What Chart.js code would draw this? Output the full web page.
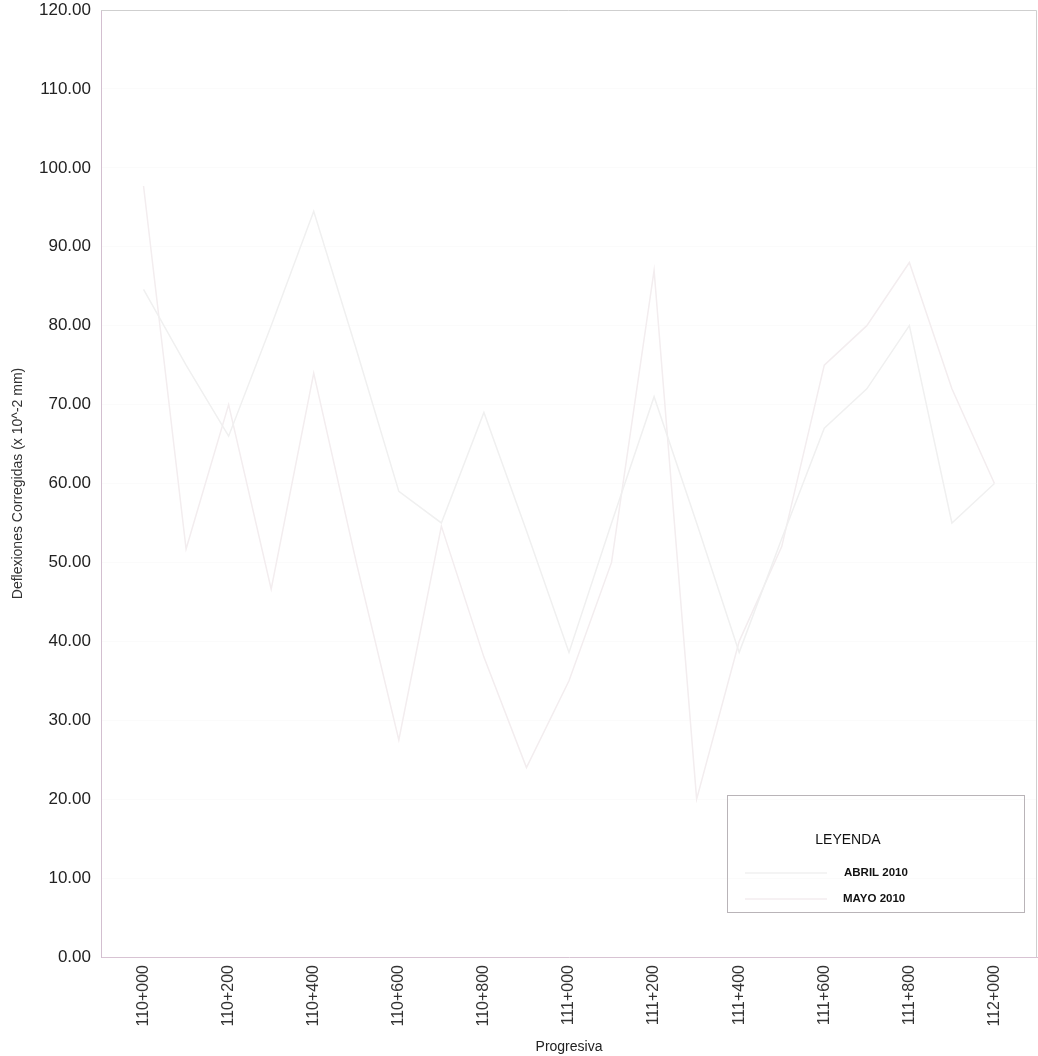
<!DOCTYPE html>
<html>
<head>
<meta charset="utf-8">
<script src="https://cdn.jsdelivr.net/npm/chart.js@4.4.1/dist/chart.umd.min.js"></script>
<style>
  html, body { margin: 0; padding: 0; background: #fff; }
  #wrap { width: 1038px; height: 1056px; }
</style>
</head>
<body>
<div id="wrap"><canvas id="chart-deflexiones" width="1038" height="1056"></canvas></div>
<script>
const progresivas = [
  '110+000', '110+100', '110+200', '110+300', '110+400', '110+500', '110+600',
  '110+700', '110+800', '110+900', '111+000', '111+100', '111+200', '111+300',
  '111+400', '111+500', '111+600', '111+700', '111+800', '111+900', '112+000',
]
const abril2010 = [84.6, 75.0, 66.0, 80.0, 94.5, 77.0, 59.0, 55.0, 69.0, 54.0, 38.6,
  55.0, 71.0, 55.0, 38.6, 53.0, 67.0, 72.0, 80.0, 55.0, 60.0]
const mayo2010 = [97.7, 51.7, 70.0, 46.6, 74.0, 50.0, 27.5, 54.6, 38.0, 24.0, 35.0,
  50.0, 87.0, 20.0, 40.0, 52.0, 75.0, 80.0, 88.0, 72.0, 60.0]
const yTicks = [0, 10, 20, 30, 40, 50, 60, 70, 80, 90, 100, 110, 120]

const ctx = document.getElementById('chart-deflexiones').getContext('2d')

const toPoints = (values) => values.map((v, i) => ({ x: i, y: v }))

// caja de leyenda dentro del area del grafico (abajo a la derecha)
const leyendaPlugin = {
  id: 'leyenda',
  afterDraw (chart) {
    const { ctx, chartArea } = chart
    const left = chartArea.right - 310
    const top = chartArea.bottom - 162
    const w = 297
    const h = 117
    ctx.save()
    ctx.strokeStyle = '#b9b4b8'
    ctx.lineWidth = 1
    ctx.strokeRect(left + 0.5, top + 0.5, w, h)
    ctx.fillStyle = '#111'
    ctx.font = '14px "Liberation Sans", Arial, sans-serif'
    ctx.textAlign = 'center'
    ctx.textBaseline = 'middle'
    ctx.fillText('LEYENDA', left + 121, top + 45)
    ctx.font = 'bold 11.5px "Liberation Sans", Arial, sans-serif'
    ctx.textAlign = 'left'
    chart.data.datasets.forEach((ds, i) => {
      const y = top + 78 + i * 26
      ctx.strokeStyle = ds.borderColor
      ctx.lineWidth = 1.5
      ctx.beginPath()
      ctx.moveTo(left + 18, y)
      ctx.lineTo(left + 100, y)
      ctx.stroke()
      ctx.fillStyle = '#111'
      ctx.fillText(ds.label, left + 117 - i, y)
    })
    ctx.restore()
  },
}

// marco superior y derecho del area de trazado
const marcoPlugin = {
  id: 'marco',
  afterDraw (chart) {
    const { ctx, chartArea } = chart
    ctx.save()
    ctx.strokeStyle = '#cfcfcf'
    ctx.lineWidth = 1
    ctx.beginPath()
    ctx.moveTo(chartArea.left, chartArea.top + 0.5)
    ctx.lineTo(chartArea.right - 0.5, chartArea.top + 0.5)
    ctx.lineTo(chartArea.right - 0.5, chartArea.bottom)
    ctx.stroke()
    ctx.restore()
  },
}

new Chart(ctx, {
  type: 'line',
  data: {
    datasets: [{
      label: 'ABRIL 2010',
      data: toPoints(abril2010),
      borderColor: '#f0f0f0',
      borderWidth: 1.5,
      pointRadius: 0,
      tension: 0,
    }, {
      label: 'MAYO 2010',
      data: toPoints(mayo2010),
      borderColor: '#f3edef',
      borderWidth: 1.5,
      pointRadius: 0,
      tension: 0,
    }],
  },
  options: {
    responsive: false,
    animation: false,
    layout: { padding: { top: 10, right: 1, left: 0, bottom: 0 } },
    plugins: {
      legend: { display: false },
      tooltip: { enabled: false },
    },
    scales: {
      x: {
        type: 'linear',
        min: -1,
        max: progresivas.length,
        afterBuildTicks (scale) {
          scale.ticks = progresivas.map((p, i) => ({ value: i })).filter((t) => t.value % 2 === 0)
        },
        afterFit (scale) { scale.height = 99 },
        grid: { display: false, drawTicks: false },
        border: { color: '#d8c3d3', width: 1 },
        ticks: {
          minRotation: 90,
          maxRotation: 90,
          padding: 8,
          color: '#333',
          font: { family: '"Liberation Sans", Arial, sans-serif', size: 16 },
          callback: (v) => progresivas[v],
        },
        title: {
          display: true,
          text: 'Progresiva',
          color: '#222',
          padding: { top: 0, bottom: 0 },
          font: { family: '"Liberation Sans", Arial, sans-serif', size: 14 },
        },
      },
      y: {
        min: 0,
        max: 120,
        afterBuildTicks (scale) {
          scale.ticks = yTicks.map((v) => ({ value: v }))
        },
        afterFit (scale) {
          scale.width = 101
          scale.paddingTop = 0
        },
        grid: { color: 'rgba(0,0,0,0.015)', drawTicks: false },
        border: { color: '#d3bfd0', width: 1 },
        ticks: {
          padding: 10,
          color: '#222',
          font: { family: '"Liberation Sans", Arial, sans-serif', size: 17 },
          callback: (v) => v.toFixed(2),
        },
        title: {
          display: true,
          text: 'Deflexiones Corregidas (x 10^-2 mm)',
          color: '#333',
          padding: { top: 10, bottom: 0 },
          font: { family: '"Liberation Sans", Arial, sans-serif', size: 14 },
        },
      },
    },
  },
  plugins: [marcoPlugin, leyendaPlugin],
})
</script>
</body>
</html>
